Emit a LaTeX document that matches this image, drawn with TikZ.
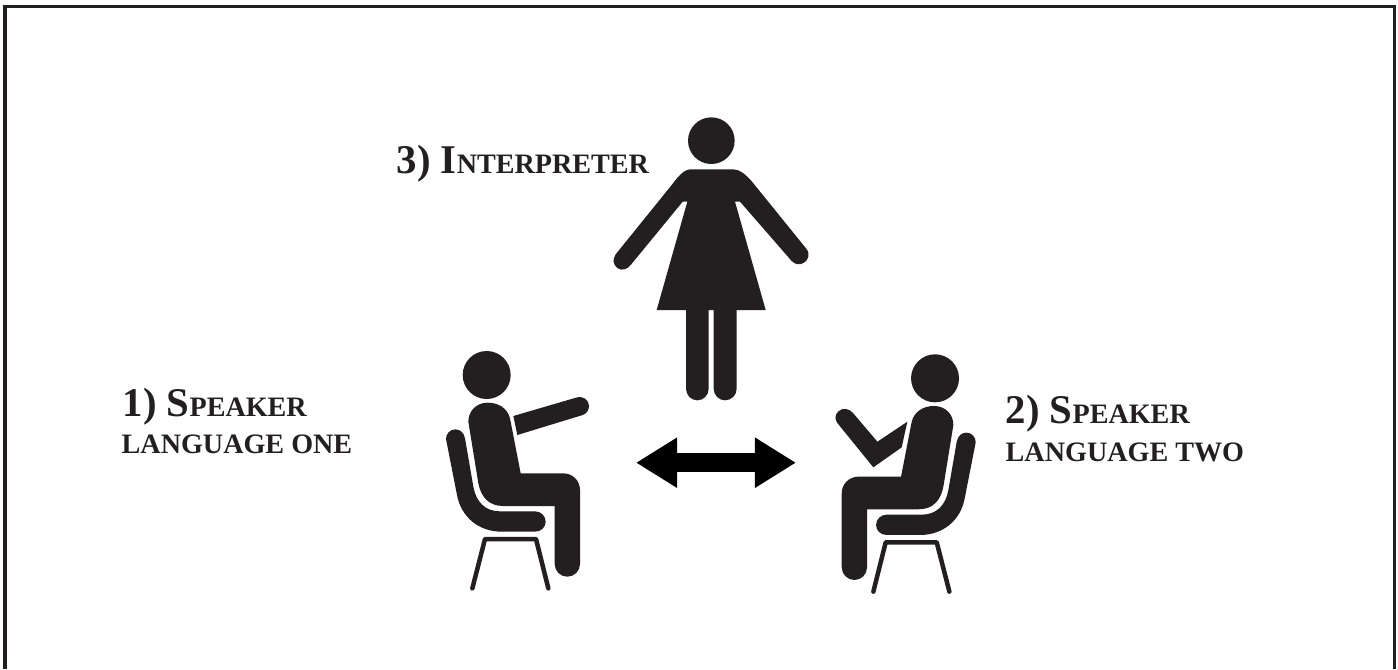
\documentclass[tikz,border=0pt]{standalone}
\usepackage{fontspec}
\usepackage{tikz}
\usetikzlibrary{arrows.meta}
\setmainfont{Liberation Serif}
\definecolor{Ink}{HTML}{231F20}
\newcommand{\capsbig}[1]{{\fontsize{11.6pt}{13pt}\selectfont #1}}
\newcommand{\capslow}[1]{{\fontsize{8pt}{11pt}\selectfont #1}}
\tikzset{
  figure/.style={fill=Ink,draw=none},
  chairline/.style={draw=Ink,line width=0.045cm,line cap=round,line join=round},
  caption/.style={anchor=base west,inner sep=0pt,text=Ink,font=\bfseries},
  seated/.pic={
    \fill[figure] (200,105) circle[radius=72];
    \fill[figure] (145,245) .. controls (145,212) and (170,188) .. (203,188) .. controls (236,188) and (262,205) .. (270,235) -- (302,400) -- (430,400) .. controls (458,400) and (480,422) .. (480,450) -- (480,672) .. controls (480,693) and (463,710) .. (442,710) .. controls (421,710) and (404,693) .. (404,672) -- (404,498) -- (250,498) .. controls (205,498) and (183,470) .. (175,430) -- cycle;
    \fill[figure] (78,297) .. controls (78,281) and (90,268) .. (106,268) .. controls (120,268) and (132,278) .. (135,295) -- (160,440) .. controls (168,485) and (195,514) .. (240,514) -- (345,514) .. controls (363,514) and (377,528) .. (377,545) .. controls (377,562) and (363,575) .. (345,575) -- (245,575) .. controls (175,575) and (125,530) .. (112,470) -- cycle;
    \draw[chairline] (157,745) -- (195,597) -- (348,597) -- (385,745);
  }
}
\begin{document}
\begin{tikzpicture}[x=0.01cm,y=-0.01cm]
\useasboundingbox (0,0) rectangle (1398,669);
\draw[Ink,line width=0.03cm] (5,669) -- (5,6) -- (1394,6) -- (1394,669);
% interpreter
\begin{scope}[shift={(600,100)},scale=1/3]
\fill[figure] (334,122) circle[radius=70];
\fill[figure] (272,208) -- (400,208) .. controls (420,208) and (438,225) .. (452,240) -- (618,445) .. controls (632,462) and (625,480) .. (612,488) .. controls (600,496) and (585,494) .. (575,483) -- (420,305) -- (405,305) -- (497,630) -- (170,630) -- (262,305) -- (248,305) -- (92,495) .. controls (82,508) and (65,514) .. (52,504) .. controls (40,495) and (36,478) .. (47,463) -- (215,255) .. controls (230,235) and (250,208) .. (272,208) -- cycle;
\fill[figure] (258,630) -- (326,630) -- (326,866) .. controls (326,885) and (311,901) .. (292,901) .. controls (273,901) and (258,885) .. (258,866) -- cycle;
\fill[figure] (341,630) -- (410,630) -- (410,866) .. controls (410,885) and (395,901) .. (375,901) .. controls (356,901) and (341,885) .. (341,866) -- cycle;
\end{scope}
% speakers
\pic[scale=1/3] at (420,340) {seated};
\pic[xscale=-1/3,yscale=1/3] at (1001.7,343.3) {seated};
\begin{scope}[shift={(420,340)},scale=1/3]
\fill[figure] (280,228) -- (468,173) .. controls (490,166) and (507,180) .. (507,198) .. controls (507,212) and (498,222) .. (488,225) -- (292,285) -- cycle;
\end{scope}
\begin{scope}[shift={(800,340)},scale=1/3]
\fill[figure] (232,305) -- (160,220) .. controls (148,205) and (128,202) .. (115,214) .. controls (104,225) and (104,238) .. (112,249) -- (220,382) -- (305,322) -- (322,245) -- cycle;
\end{scope}
% labels
\node[caption] (interp) at (396,173) {\capsbig{3) I}\capslow{NTERPRETER}};
\node[caption] (one) at (122,416) {\capsbig{1) S}\capslow{PEAKER}};
\node[caption] (onelang) at (121,453) {\capslow{LANGUAGE ONE}};
\node[caption] (two) at (1005,423) {\capsbig{2) S}\capslow{PEAKER}};
\node[caption] (twolang) at (1005,461) {\capslow{LANGUAGE TWO}};
% exchange
\coordinate (talkleft) at (636,462.7);
\coordinate (talkright) at (796,462.7);
\draw[{Triangle[length=0.41cm,width=0.474cm]}-{Triangle[length=0.41cm,width=0.474cm]},line width=0.19cm] (talkleft) -- (talkright);
\end{tikzpicture}
\end{document}
